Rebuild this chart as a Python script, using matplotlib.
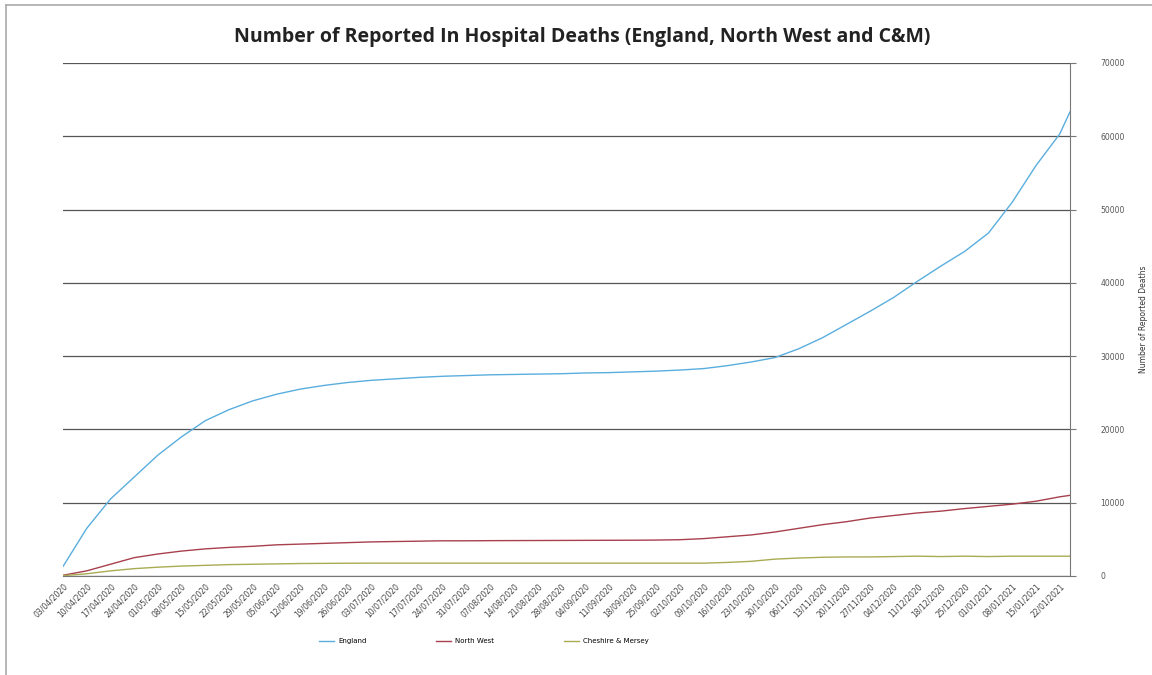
import numpy as np
import pandas as pd
import matplotlib
matplotlib.use('Agg')
import matplotlib.pyplot as plt
import matplotlib.dates as mdates
from matplotlib.lines import Line2D

# weekly readings (cumulative reported in-hospital deaths)
dates = list(pd.date_range('2020-04-03', periods=43, freq='7D')) + [pd.Timestamp('2021-01-25')]

england = [1300, 6500, 10500, 13500, 16500, 19000, 21200, 22700, 23900, 24800,
           25500, 26000, 26400, 26700, 26900, 27100, 27250, 27350, 27450, 27500,
           27550, 27600, 27700, 27750, 27850, 27950, 28100, 28300, 28700, 29200,
           29800, 31000, 32500, 34300, 36100, 38000, 40200, 42300, 44300, 46800,
           51000, 56000, 60300, 63300]

north_west = [100, 700, 1600, 2500, 3000, 3400, 3700, 3900, 4050, 4250,
              4350, 4450, 4550, 4650, 4700, 4750, 4800, 4800, 4820, 4830,
              4840, 4850, 4860, 4870, 4880, 4900, 4950, 5100, 5350, 5600,
              6000, 6500, 7000, 7400, 7900, 8250, 8600, 8850, 9200, 9500,
              9800, 10200, 10800, 11000]

ches_mers = [50, 300, 700, 1000, 1200, 1350, 1450, 1550, 1600, 1650,
             1700, 1720, 1740, 1750, 1750, 1750, 1750, 1750, 1750, 1750,
             1750, 1750, 1750, 1750, 1750, 1750, 1750, 1750, 1850, 2000,
             2300, 2450, 2550, 2600, 2600, 2650, 2700, 2650, 2700, 2650,
             2700, 2700, 2700, 2700]

tick_dates = pd.date_range('2020-04-03', '2021-01-22', freq='7D')
y_ticks = [0, 10000, 20000, 30000, 40000, 50000, 60000, 70000]

fig = plt.figure(figsize=(11.52, 6.75), dpi=100)
ax = fig.add_axes([0.0547, 0.1467, 0.874, 0.76])

ax.plot(dates, england, color='#5aaede', lw=1.0)
ax.plot(dates, north_west, color='#a8404e', lw=1.0)
ax.plot(dates, ches_mers, color='#a9ab52', lw=1.0)

ax.set_xlim(pd.Timestamp('2020-04-03'), pd.Timestamp('2021-01-25'))
ax.set_ylim(0, 70000)

# y axis on the right, like the spreadsheet chart
ax.yaxis.tick_right()
ax.yaxis.set_label_position('right')
ax.set_yticks(y_ticks)
ax.set_yticklabels([str(v) for v in y_ticks], fontsize=5.5, color='#555555')
ax.set_ylabel('Number of Reported Deaths', fontsize=5.5, color='#333333')
ax.yaxis.set_label_coords(1.069, 0.5)
ax.grid(axis='y', color='#555555', lw=0.9)
ax.tick_params(axis='y', length=4, color='#777777', pad=18)

ax.set_xticks(tick_dates)
ax.set_xticklabels([d.strftime('%d/%m/%Y') for d in tick_dates], rotation=45,
                   ha='right', rotation_mode='anchor', fontsize=5.5, color='#444444')
ax.tick_params(axis='x', length=0, pad=4)

for s in ['left', 'top']:
    ax.spines[s].set_visible(False)
ax.spines['right'].set_color('#777777')
ax.spines['bottom'].set_color('#777777')

fig.text(0.505, 0.945, 'Number of Reported In Hospital Deaths (England, North West and C&M)',
         ha='center', va='center', fontsize=14, fontweight='bold', family='Open Sans',
         color='#222222')

handles = [Line2D([], [], color='#5aaede', lw=1.0),
           Line2D([], [], color='#a8404e', lw=1.0),
           Line2D([], [], color='#a9ab52', lw=1.0)]
fig.legend(handles, ['England', 'North West', 'Cheshire & Mersey'], loc='center',
           bbox_to_anchor=(0.42, 0.05), ncol=3, frameon=False, fontsize=5,
           handlelength=2.2, columnspacing=10, handletextpad=0.6)

# outer chart border
fig.add_artist(Line2D([0.005, 0.005], [0, 0.993], color='#aaaaaa', lw=1.2))
fig.add_artist(Line2D([0.005, 1], [0.993, 0.993], color='#aaaaaa', lw=1.2))

fig.savefig('out.png', dpi=100)
